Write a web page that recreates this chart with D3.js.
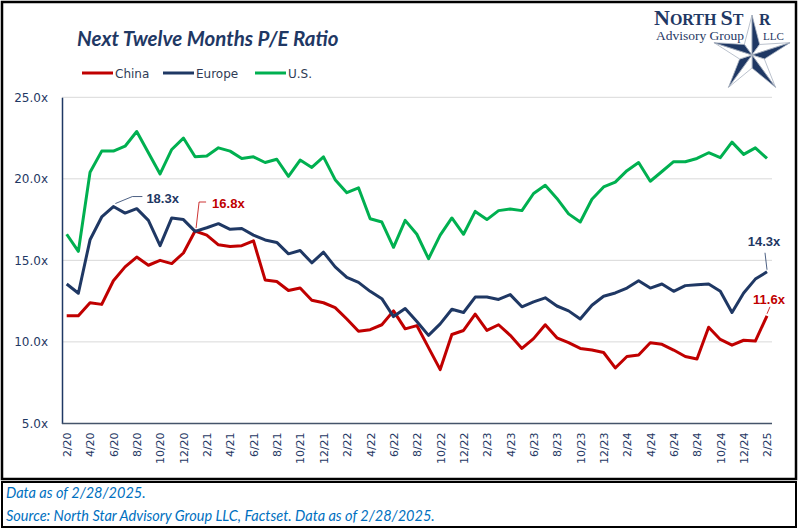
<!DOCTYPE html>
<html>
<head>
<meta charset="utf-8">
<script src="https://cdn.jsdelivr.net/npm/d3@7"></script>
<style>
  body { margin: 0; background: #ffffff; }
  svg { display: block; }
</style>
</head>
<body>
<svg width="800" height="530"></svg>
<script>
// month labels, 2/20 .. 2/25
const months = [
  "2/20","3/20","4/20","5/20","6/20","7/20","8/20","9/20","10/20","11/20","12/20",
  "1/21","2/21","3/21","4/21","5/21","6/21","7/21","8/21","9/21","10/21","11/21","12/21",
  "1/22","2/22","3/22","4/22","5/22","6/22","7/22","8/22","9/22","10/22","11/22","12/22",
  "1/23","2/23","3/23","4/23","5/23","6/23","7/23","8/23","9/23","10/23","11/23","12/23",
  "1/24","2/24","3/24","4/24","5/24","6/24","7/24","8/24","9/24","10/24","11/24","12/24",
  "1/25","2/25"
];

// every other month gets a tick label
const tickLabels = [
  "2/20","4/20","6/20","8/20","10/20","12/20","2/21","4/21","6/21","8/21","10/21",
  "12/21","2/22","4/22","6/22","8/22","10/22","12/22","2/23","4/23","6/23","8/23",
  "10/23","12/23","2/24","4/24","6/24","8/24","10/24","12/24","2/25"
];

const yTicks = [5, 10, 15, 20, 25];

const china = [
  11.6, 11.6, 12.4, 12.3, 13.75, 14.6, 15.2, 14.7, 15.0, 14.8, 15.45,
  16.8, 16.55, 15.95, 15.85, 15.9, 16.2, 13.8, 13.7, 13.15, 13.3, 12.55, 12.4,
  12.1, 11.4, 10.65, 10.75, 11.05, 11.9, 10.8, 11.0, 9.65, 8.3, 10.45, 10.7,
  11.7, 10.7, 11.05, 10.4, 9.6, 10.2, 11.05, 10.25, 9.95, 9.6, 9.5, 9.35,
  8.4, 9.1, 9.2, 9.95, 9.85, 9.5, 9.1, 8.95, 10.9, 10.15, 9.8, 10.1,
  10.05, 11.6
];

const europe = [
  13.55, 12.98, 16.26, 17.66, 18.3, 17.9, 18.17, 17.45, 15.9, 17.6, 17.5,
  16.78, 17.0, 17.25, 16.9, 16.95, 16.55, 16.25, 16.1, 15.4, 15.6, 14.85, 15.5,
  14.6, 13.95, 13.65, 13.1, 12.65, 11.55, 12.05, 11.25, 10.4, 11.1, 12.0, 11.8,
  12.75, 12.75, 12.6, 12.9, 12.15, 12.45, 12.7, 12.2, 11.9, 11.4, 12.25, 12.8,
  13.0, 13.3, 13.75, 13.3, 13.55, 13.1, 13.45, 13.5, 13.55, 13.1, 11.8, 13.0,
  13.85, 14.3
];

const us = [
  16.6, 15.55, 20.4, 21.7, 21.7, 22.0, 22.9, 21.6, 20.3, 21.8, 22.5,
  21.35, 21.4, 21.9, 21.7, 21.25, 21.35, 21.0, 21.2, 20.15, 21.15, 20.7, 21.35,
  19.95, 19.15, 19.45, 17.55, 17.35, 15.8, 17.45, 16.6, 15.1, 16.55, 17.6, 16.6,
  18.0, 17.5, 18.05, 18.15, 18.05, 19.1, 19.6, 18.8, 17.85, 17.35, 18.75, 19.5,
  19.8, 20.5, 21.0, 19.85, 20.45, 21.05, 21.05, 21.25, 21.6, 21.3, 22.25, 21.5,
  21.9, 21.25
];

const seriesNames = ["China", "Europe", "U.S."];
const seriesColors = ["#c00000", "#1f3864", "#00b050"];
const seriesData = [china, europe, us];

const navy = "#1f3864";

let svg = d3.select("svg");

// chart frame and footnote box
svg.append("rect")
  .attr("x", 2).attr("y", 2)
  .attr("width", 794).attr("height", 477)
  .attr("fill", "#ffffff")
  .attr("stroke", "#000000")
  .attr("stroke-width", 2.5);

svg.append("rect")
  .attr("x", 2).attr("y", 482)
  .attr("width", 794).attr("height", 45)
  .attr("fill", "#ffffff")
  .attr("stroke", "#000000")
  .attr("stroke-width", 2);

// scales
const left = 62, right = 772;
let x = d3.scaleLinear().domain([0, months.length - 1]).range([66.7, 767]);
let y = d3.scaleLinear().domain([5, 25]).range([423.4, 97.3]);

// gridlines
svg.append("g")
  .selectAll("line")
  .data(yTicks.slice(1))
  .enter().append("line")
  .attr("x1", left).attr("x2", right)
  .attr("y1", d => y(d)).attr("y2", d => y(d))
  .attr("stroke", "#d9d9d9")
  .attr("stroke-width", 1);

// y axis
let yAxis = svg.append("g")
  .attr("transform", "translate(" + left + ",0)")
  .call(d3.axisLeft(y).tickValues(yTicks).tickSize(0).tickPadding(14)
    .tickFormat(d => d.toFixed(1) + "x"));
yAxis.select(".domain").attr("stroke", navy).attr("stroke-width", 1.5);
yAxis.selectAll("text")
  .attr("fill", navy)
  .style("font-family", "DejaVu Sans")
  .style("font-size", "12px");

// x axis
let tickIdx = tickLabels.map(t => months.indexOf(t));
let xAxis = svg.append("g")
  .attr("transform", "translate(0," + y(5) + ")")
  .call(d3.axisBottom(x).tickValues(tickIdx).tickSize(0)
    .tickFormat(i => months[i]));
xAxis.select(".domain")
  .attr("d", "M" + left + ",0H" + right)
  .attr("stroke", "#44546a").attr("stroke-width", 1.5);
xAxis.selectAll("text")
  .attr("transform", "rotate(-90)")
  .attr("x", -9).attr("y", 0).attr("dy", "0.35em")
  .style("text-anchor", "end")
  .attr("fill", navy)
  .style("font-family", "DejaVu Sans")
  .style("font-size", "11px");

// lines
let line = d3.line()
  .x((d, i) => x(i))
  .y(d => y(d));

svg.append("g")
  .selectAll("path")
  .data(seriesData)
  .enter().append("path")
  .attr("d", line)
  .attr("fill", "none")
  .attr("stroke", (d, i) => seriesColors[i])
  .attr("stroke-width", 3)
  .attr("stroke-linejoin", "round");

// data labels with leader lines
let last = months.length - 1;
let peakEu = europe.indexOf(d3.max(europe));
let peakCn = china.indexOf(d3.max(china));
let callouts = [
  { i: peakEu, v: europe[peakEu], pts: [[2, -3], [19, -10], [29, -10]], tx: 33, ty: -4, anchor: "start", c: navy },
  { i: peakCn, v: china[peakCn], pts: [[1, -3], [4, -29], [11, -29]], tx: 17, ty: -23, anchor: "start", c: "#c00000" },
  { i: last, v: europe[last], pts: [[0, -2], [-2, -19]], tx: -3, ty: -26, anchor: "middle", c: navy },
  { i: last, v: china[last], pts: [[0, -2], [3, -9]], tx: 2, ty: -12, anchor: "middle", c: "#c00000" }
];

callouts.forEach(c => {
  let px = x(c.i), py = y(c.v);
  svg.append("path")
    .attr("d", d3.line()(c.pts.map(p => [px + p[0], py + p[1]])))
    .attr("fill", "none")
    .attr("stroke", c.c)
    .attr("stroke-width", 0.8);
  svg.append("text")
    .attr("x", px + c.tx)
    .attr("y", py + c.ty)
    .attr("text-anchor", c.anchor)
    .attr("fill", c.c)
    .style("font-family", "Liberation Sans")
    .style("font-weight", "bold")
    .style("font-size", "13px")
    .text(c.v.toFixed(1) + "x");
});

// title
svg.append("text")
  .attr("x", 77).attr("y", 46)
  .attr("fill", navy)
  .style("font-family", "Lato")
  .style("font-weight", "bold")
  .style("font-style", "italic")
  .style("font-size", "20.5px")
  .text("Next Twelve Months P/E Ratio");

// legend
let legendX = [82, 163, 255];
let legend = svg.append("g")
  .selectAll("g")
  .data(seriesNames)
  .enter().append("g")
  .attr("transform", (d, i) => "translate(" + legendX[i] + ",73)");
legend.append("line")
  .attr("x1", 0).attr("x2", 31)
  .attr("stroke", (d, i) => seriesColors[i])
  .attr("stroke-width", 3);
legend.append("text")
  .attr("x", 33).attr("y", 4.5)
  .attr("fill", "#2f3b55")
  .style("font-family", "DejaVu Sans")
  .style("font-size", "12px")
  .text(d => d);

// logo: star
let cx = 752, cy = 55, R = 40, r = 13;
let logo = svg.append("g");
for (let k = 0; k < 5; k++) {
  let a = -Math.PI / 2 + k * 2 * Math.PI / 5;
  let outer = [cx + R * Math.cos(a), cy + R * Math.sin(a)];
  let inL = [cx + r * Math.cos(a - Math.PI / 5), cy + r * Math.sin(a - Math.PI / 5)];
  let inR = [cx + r * Math.cos(a + Math.PI / 5), cy + r * Math.sin(a + Math.PI / 5)];
  logo.append("path")
    .attr("d", d3.line()([[cx, cy], inL, outer]) + "Z")
    .attr("fill", "#ffffff")
    .attr("stroke", "#aab2c0")
    .attr("stroke-width", 0.8);
  logo.append("path")
    .attr("d", d3.line()([[cx, cy], outer, inR]) + "Z")
    .attr("fill", navy)
    .attr("stroke", "#aab2c0")
    .attr("stroke-width", 0.8);
}

let brand = svg.append("text")
  .attr("x", 654).attr("y", 25)
  .attr("fill", navy)
  .style("font-family", "Liberation Serif")
  .style("font-weight", "bold");
brand.append("tspan").style("font-size", "22px").text("N");
brand.append("tspan").style("font-size", "16px").text("ORTH ");
brand.append("tspan").style("font-size", "22px").text("S");
brand.append("tspan").style("font-size", "16px").text("T");

svg.append("text")
  .attr("x", 759).attr("y", 25)
  .attr("fill", navy)
  .style("font-family", "Liberation Serif")
  .style("font-weight", "bold")
  .style("font-size", "16px")
  .text("R");

svg.append("text")
  .attr("x", 656).attr("y", 40)
  .attr("fill", navy)
  .style("font-family", "Liberation Serif")
  .style("font-size", "13.5px")
  .text("Advisory Group");

svg.append("text")
  .attr("x", 763).attr("y", 40)
  .attr("fill", navy)
  .style("font-family", "Liberation Serif")
  .style("font-size", "11px")
  .text("LLC");

// footnotes
let notes = ["Data as of 2/28/2025.", "Source: North Star Advisory Group LLC, Factset. Data as of 2/28/2025."];
svg.append("g")
  .selectAll("text")
  .data(notes)
  .enter().append("text")
  .attr("x", 6)
  .attr("y", (d, i) => 498 + i * 23)
  .attr("fill", "#0070c0")
  .style("font-family", "Lato")
  .style("font-style", "italic")
  .style("font-size", "14.5px")
  .text(d => d);
</script>
</body>
</html>
